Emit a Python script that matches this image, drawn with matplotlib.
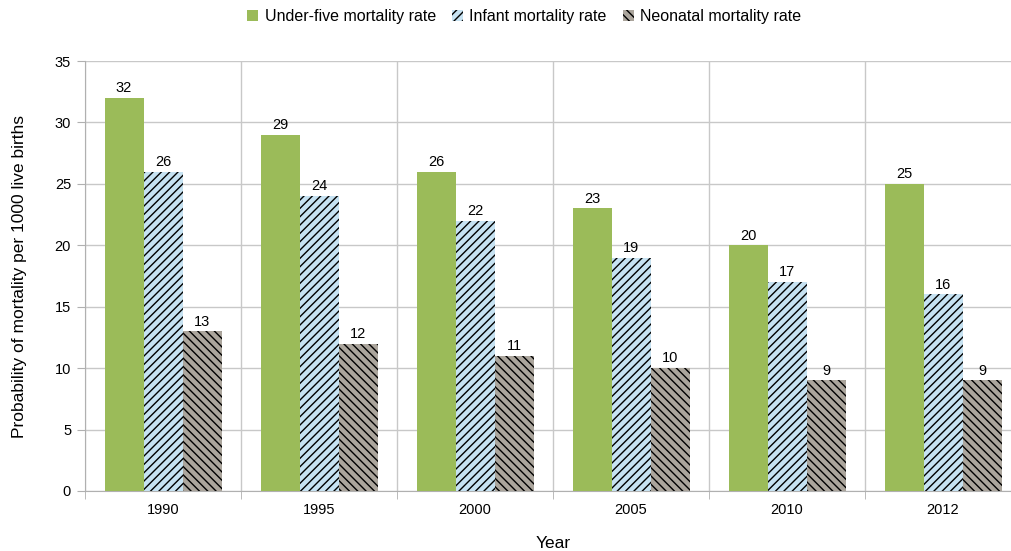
import matplotlib.pyplot as plt
import numpy as np

plt.rcParams['font.family'] = ['Liberation Sans', 'DejaVu Sans']
plt.rcParams['hatch.linewidth'] = 1.0

years = ['1990', '1995', '2000', '2005', '2010', '2012']
under_five = [32, 29, 26, 23, 20, 25]
infant = [26, 24, 22, 19, 17, 16]
neonatal = [13, 12, 11, 10, 9, 9]

series = [
    ('Under-five mortality rate', under_five, '#9BBB59', None),
    ('Infant mortality rate', infant, '#C6E2F2', '////'),
    ('Neonatal mortality rate', neonatal, '#ABA59C', '\\\\\\\\'),
]

fig = plt.figure(figsize=(10.12, 5.51), dpi=100)
ax = fig.add_axes([85 / 1012, 1 - 491 / 551, 936 / 1012, 430 / 551])

x = np.arange(len(years))
w = 0.25
handles = []
for i, (name, vals, col, hatch) in enumerate(series):
    bars = ax.bar(x + (i - 1) * w, vals, w, color=col, hatch=hatch,
                  edgecolor='black' if hatch else col, linewidth=0,
                  label=name, zorder=3)
    handles.append(bars)
    for b, v in zip(bars, vals):
        ax.annotate(str(v), (b.get_x() + b.get_width() / 2, v),
                    xytext=(0, 2), textcoords='offset points',
                    ha='center', va='bottom', fontsize=10.5)

ax.set_xlim(-0.5, len(years) - 0.5)
ax.set_ylim(0, 35)
ax.set_yticks(range(0, 36, 5))
ax.set_xticks(x)
ax.set_xticklabels(years)
ax.set_xticks(np.arange(-0.5, len(years)), minor=True)
ax.tick_params(axis='x', which='major', length=0, labelsize=10.5, pad=9)
ax.tick_params(axis='x', which='minor', length=6, color='#b0b0b0')
ax.tick_params(axis='y', length=6, color='#b0b0b0', labelsize=10.5, pad=4)

ax.grid(axis='y', color='#c8c8c8', linewidth=1, zorder=0)
ax.grid(axis='x', which='minor', color='#c8c8c8', linewidth=1, zorder=0)
for s in ['top', 'right']:
    ax.spines[s].set_visible(False)
for s in ['left', 'bottom']:
    ax.spines[s].set_color('#b0b0b0')

ax.set_ylabel('Probability of mortality per 1000 live births', fontsize=12.5, labelpad=20)
ax.set_xlabel('Year', fontsize=12.5, labelpad=13)

fig.legend(handles=handles, loc='center', bbox_to_anchor=(0.518, 0.97),
           ncol=3, frameon=False, fontsize=11.5, handlelength=0.7,
           handleheight=0.7, handletextpad=0.4, columnspacing=1.0)

fig.savefig('out.png', dpi=100)
